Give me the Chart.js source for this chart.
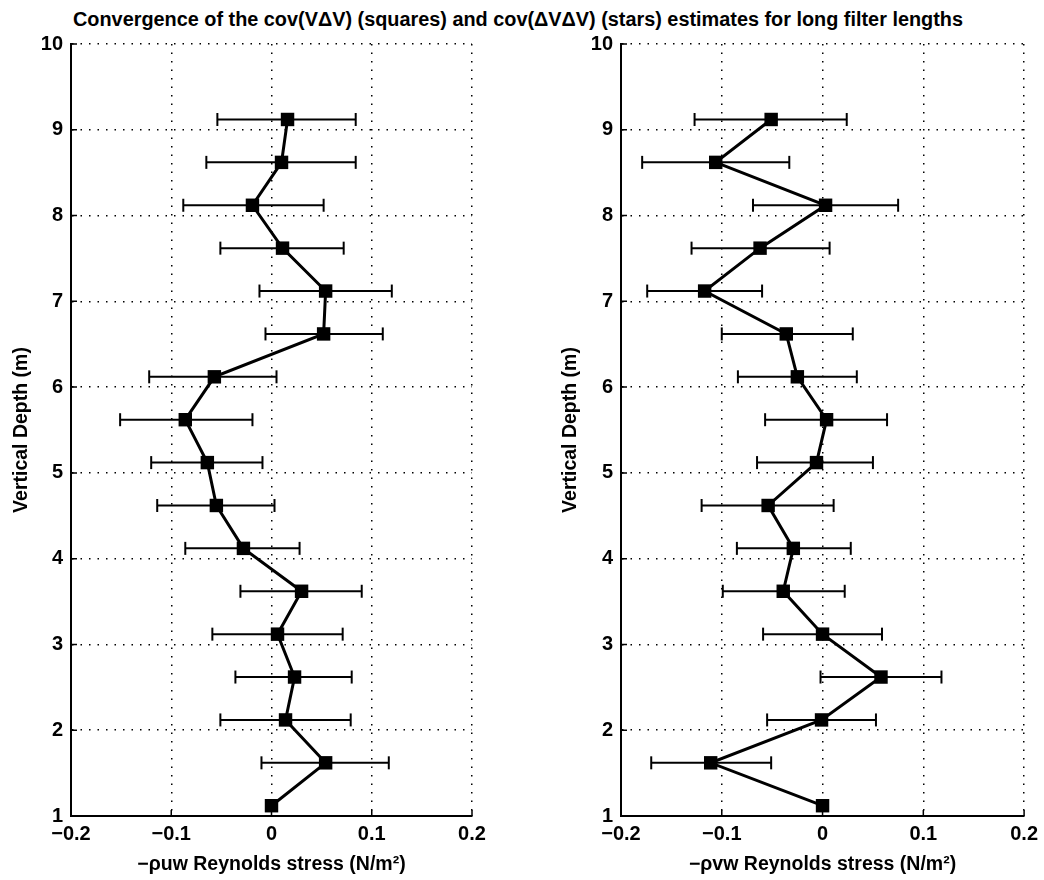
<!DOCTYPE html>
<html>
<head>
<meta charset="utf-8">
<script src="https://cdn.jsdelivr.net/npm/chart.js@4.4.1/dist/chart.umd.min.js"></script>
<style>
  html, body { margin: 0; padding: 0; background: #fff; }
  #wrap { position: relative; width: 1044px; height: 880px; overflow: hidden; background: #fff; }
  #title { position: absolute; left: 73px; top: 9px; font: bold 20px "Liberation Sans", Arial, sans-serif; line-height: 20px; white-space: nowrap; color: #000; transform-origin: 0 0; }
  canvas { position: absolute; top: 0; }
  #c1 { left: 0; }
  #c2 { left: 522px; }
</style>
</head>
<body>
<div id="wrap">
  <div id="title">Convergence of the cov(VΔV) (squares) and cov(ΔVΔV) (stars) estimates for long filter lengths</div>
  <canvas id="c1" width="522" height="880"></canvas>
  <canvas id="c2" width="522" height="880"></canvas>
</div>
<script>
// ---- data ----
const depth = [1.12, 1.62, 2.12, 2.62, 3.12, 3.62, 4.12, 4.62, 5.12, 5.62, 6.12, 6.62, 7.12, 7.62, 8.12, 8.62, 9.12];

const uwStress = [0.000, 0.054, 0.014, 0.023, 0.006, 0.030, -0.028, -0.055, -0.064, -0.086, -0.057, 0.052, 0.054, 0.011, -0.019, 0.010, 0.016];
const uwLow    = [null, -0.010, -0.051, -0.036, -0.059, -0.031, -0.086, -0.114, -0.120, -0.151, -0.122, -0.006, -0.012, -0.051, -0.088, -0.065, -0.054];
const uwHigh   = [null, 0.117, 0.079, 0.080, 0.071, 0.090, 0.028, 0.003, -0.009, -0.019, 0.005, 0.111, 0.120, 0.072, 0.052, 0.084, 0.084];

const vwStress = [0.000, -0.111, -0.001, 0.058, 0.000, -0.039, -0.029, -0.054, -0.006, 0.004, -0.025, -0.036, -0.117, -0.062, 0.003, -0.106, -0.051];
const vwLow    = [null, -0.170, -0.055, -0.002, -0.059, -0.099, -0.085, -0.120, -0.065, -0.057, -0.084, -0.100, -0.174, -0.130, -0.069, -0.179, -0.127];
const vwHigh   = [null, -0.051, 0.053, 0.118, 0.059, 0.022, 0.028, 0.011, 0.050, 0.064, 0.034, 0.030, -0.060, 0.007, 0.075, -0.033, 0.024];

const xTickValues = [-0.2, -0.1, 0, 0.1, 0.2];
const yTickValues = [1, 2, 3, 4, 5, 6, 7, 8, 9, 10];

const yTitle = 'Vertical Depth (m)';
const xTitleLeft = '−ρuw Reynolds stress (N/m²)';
const xTitleRight = '−ρvw Reynolds stress (N/m²)';

// ---- rendering ----
const FONT = '"Liberation Sans", Arial, sans-serif';
const DASH = [1.5, 7];

function fmtX(v) {
  const r = Math.round(v * 10) / 10;
  if (r === 0) return '0';
  return (r < 0 ? '−' : '') + Math.abs(r).toFixed(1);
}

function buildDatasets(stress, lo, hi) {
  const sets = [{
    data: depth.map((d, i) => ({ x: stress[i], y: d })),
    showLine: true,
    borderColor: '#000',
    backgroundColor: '#000',
    borderWidth: 3,
    pointStyle: 'rect',
    pointRadius: 9.5,
    pointBorderWidth: 0,
    pointBackgroundColor: '#000',
    order: 0
  }];
  depth.forEach((d, i) => {
    if (lo[i] === null || hi[i] === null) return;
    sets.push({
      data: [{ x: lo[i], y: d }, { x: hi[i], y: d }],
      showLine: true,
      borderColor: '#000',
      borderWidth: 2,
      pointStyle: 'line',
      pointRotation: 90,
      pointRadius: 6.5,
      pointBorderWidth: 2,
      pointBorderColor: '#000',
      order: 1
    });
  });
  return sets;
}

function makeChart(id, stress, lo, hi, xTitle, yAxisWidth, padRight, yTitlePad) {
  return new Chart(document.getElementById(id), {
    type: 'scatter',
    data: { datasets: buildDatasets(stress, lo, hi) },
    options: {
      responsive: false,
      animation: false,
      devicePixelRatio: 1,
      events: [],
      layout: { padding: { left: 0, right: padRight, top: 44, bottom: 0 } },
      plugins: { legend: { display: false }, tooltip: { enabled: false }, title: { display: false } },
      scales: {
        x: {
          type: 'linear',
          min: -0.2, max: 0.2,
          afterBuildTicks: (s) => { s.ticks = xTickValues.map(v => ({ value: v })); },
          afterFit: (s) => { s.height = 64; },
          ticks: { color: '#000', font: { family: FONT, size: 20, weight: 'bold' }, padding: 6, callback: (v) => fmtX(v), maxRotation: 0 },
          grid: { color: '#000', lineWidth: 1.5, drawTicks: false },
          border: { display: true, color: '#000', width: 2, dash: DASH },
          title: { display: true, text: xTitle, color: '#000', font: { family: FONT, size: 19.5, weight: 'bold' }, padding: { top: 0, bottom: 4 } }
        },
        y: {
          type: 'linear',
          min: 1, max: 10,
          afterBuildTicks: (s) => { s.ticks = yTickValues.map(v => ({ value: v })); },
          afterFit: (s) => { s.width = yAxisWidth; },
          ticks: { color: '#000', font: { family: FONT, size: 20, weight: 'bold' }, padding: 8 },
          grid: { color: '#000', lineWidth: 1.5, drawTicks: false },
          border: { display: true, color: '#000', width: 2, dash: DASH },
          title: { display: true, text: yTitle, color: '#000', font: { family: FONT, size: 19.5, weight: 'bold' }, padding: { top: yTitlePad, bottom: 0 } }
        }
      }
    },
    plugins: [{
      id: 'axisLines',
      beforeDatasetsDraw(chart) {
        // solid left & bottom axis lines (MATLAB style) with small inward ticks
        const a = chart.chartArea;
        const ctx = chart.ctx;
        const xs = chart.scales.x, ys = chart.scales.y;
        ctx.save();
        ctx.strokeStyle = '#000';
        ctx.lineWidth = 2;
        ctx.setLineDash([]);
        ctx.beginPath();
        ctx.moveTo(a.left, a.top);
        ctx.lineTo(a.left, a.bottom);
        ctx.lineTo(a.right, a.bottom);
        ctx.stroke();
        ctx.lineWidth = 1.5;
        ctx.beginPath();
        ys.ticks.forEach(t => {
          const y = ys.getPixelForValue(t.value);
          ctx.moveTo(a.left, y); ctx.lineTo(a.left + 6, y);
        });
        xs.ticks.forEach(t => {
          const x = xs.getPixelForValue(t.value);
          ctx.moveTo(x, a.bottom); ctx.lineTo(x, a.bottom - 6);
        });
        ctx.stroke();
        ctx.restore();
      }
    }]
  });
}

const c1 = makeChart('c1', uwStress, uwLow, uwHigh, xTitleLeft, 71, 50, 10);
const c2 = makeChart('c2', vwStress, vwLow, vwHigh, xTitleRight, 99, 19, 37);
[c1, c2].forEach(ch => {
  ch.options.scales.x.grid.borderDash = DASH;
  ch.options.scales.y.grid.borderDash = DASH;
  ch.update('none');
});

// fit title width to the reference span
const t = document.getElementById('title');
const w = t.getBoundingClientRect().width;
t.style.transform = 'scaleX(' + (890 / w) + ')';
</script>
</body>
</html>
